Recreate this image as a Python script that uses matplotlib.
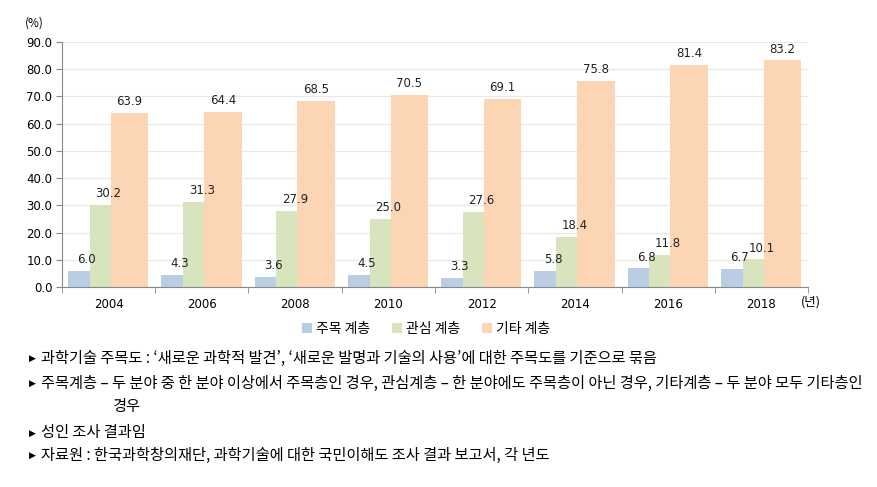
import numpy as np
import matplotlib.pyplot as plt

plt.rcParams['font.family'] = ['Noto Sans CJK KR', 'DejaVu Sans']

years = ['2004', '2006', '2008', '2010', '2012', '2014', '2016', '2018']
attentive = [6.0, 4.3, 3.6, 4.5, 3.3, 5.8, 6.8, 6.7]
interested = [30.2, 31.3, 27.9, 25.0, 27.6, 18.4, 11.8, 10.1]
others = [63.9, 64.4, 68.5, 70.5, 69.1, 75.8, 81.4, 83.2]
names = ['주목 계층', '관심 계층', '기타 계층']
colors = ['#b9cde5', '#d7e4bd', '#fcd5b5']

notes = [
    "과학기술 주목도 : ‘새로운 과학적 발견’, ‘새로운 발명과 기술의 사용’에 대한 주목도를 기준으로 묶음",
    "주목계층 – 두 분야 중 한 분야 이상에서 주목층인 경우, 관심계층 – 한 분야에도 주목층이 아닌 경우, 기타계층 – 두 분야 모두 기타층인",
    "성인 조사 결과임",
    "자료원 : 한국과학창의재단, 과학기술에 대한 국민이해도 조사 결과 보고서, 각 년도",
]

fig = plt.figure(figsize=(8.78, 4.87), dpi=100)
ax = fig.add_axes([0.0706, 0.4107, 0.8497, 0.5031])

x = np.arange(len(years))
w = 0.4
offsets = [-0.235, 0.0, 0.225]
for vals, off, c, n in zip([attentive, interested, others], offsets, colors, names):
    bars = ax.bar(x + off, vals, w, color=c, label=n, zorder=2)
    for b, v in zip(bars, vals):
        ax.text(b.get_x() + b.get_width() / 2, v + 1.8, f"{v:.1f}",
                ha='center', va='bottom', fontsize=8.5, color='#222222',
                family='DejaVu Sans', zorder=3)

ax.set_xlim(-0.5, len(years) - 0.5)
ax.set_ylim(0, 90)
ax.set_yticks(np.arange(0, 91, 10))
ax.set_yticklabels([f"{v:.1f}" for v in np.arange(0, 91, 10)], family='DejaVu Sans', fontsize=8.5)
ax.set_xticks(x)
ax.set_xticklabels(years, family='DejaVu Sans', fontsize=8.5)
ax.set_xticks(np.arange(-0.5, len(years)), minor=True)
ax.tick_params(axis='x', which='major', length=0, pad=8)
ax.tick_params(axis='x', which='minor', length=4, color='#888888')
ax.tick_params(axis='y', length=4, color='#888888', pad=3)
ax.grid(axis='y', color='#e8e8e8', linewidth=0.9, zorder=0)
for s in ['top', 'right']:
    ax.spines[s].set_visible(False)
for s in ['left', 'bottom']:
    ax.spines[s].set_color('#888888')

fig.text(0.028, 0.945, "(%)", fontsize=8.5)
fig.text(0.912, 0.372, "(년)", fontsize=9)

ax.legend(loc='upper center', bbox_to_anchor=(0.488, -0.09), ncol=3, frameon=False,
          fontsize=10, handlelength=0.7, handleheight=0.7, handletextpad=0.3, columnspacing=1.6)

ys = [358, 383, 433, 455]
for t, yy in zip(notes, ys):
    fig.text(0.033, 1 - yy / 487, "▶", fontsize=6.5, va='center', family='DejaVu Sans')
    fig.text(0.0467, 1 - yy / 487, t, fontsize=11, va='center')
fig.text(0.1276, 1 - 407 / 487, "경우", fontsize=11, va='center')

fig.savefig('out.png', dpi=100)
